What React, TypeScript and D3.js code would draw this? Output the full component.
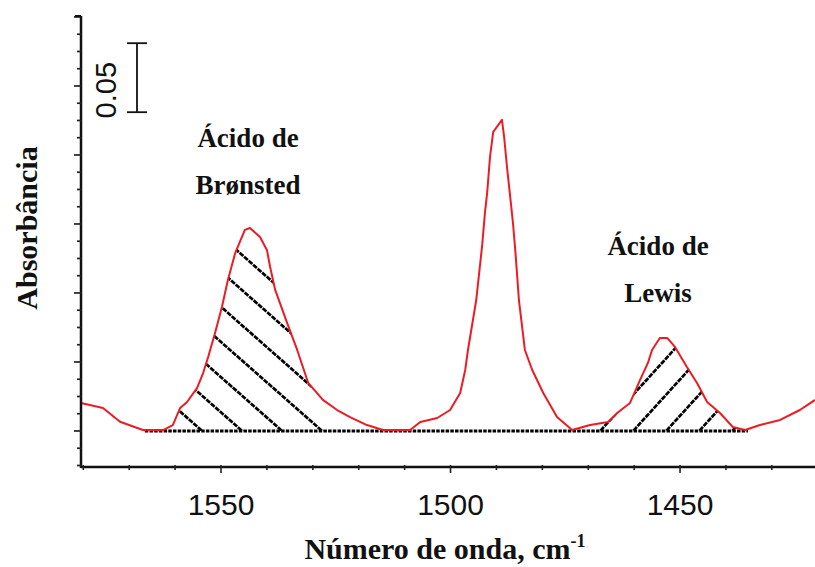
import React, { useEffect, useRef } from "react";
import * as d3 from "d3";

// spectrum (wavenumber in cm-1, absorbance relative to baseline)
const wavenumber = [1580.5, 1575.7, 1572.0, 1567.0, 1562.6, 1560.5, 1558.9, 1557.4, 1555.2, 1553.9, 1552.8, 1551.3, 1549.8, 1548.5, 1546.9, 1544.8, 1543.7, 1541.5, 1540.0, 1539.3, 1538.2, 1535.6, 1533.4, 1531.0, 1527.8, 1524.7, 1521.9, 1518.2, 1514.7, 1508.8, 1506.6, 1502.9, 1500.1, 1497.9, 1496.8, 1496.2, 1494.4, 1493.1, 1492.5, 1492.0, 1491.4, 1490.7, 1489.9, 1488.8, 1488.3, 1487.7, 1487.0, 1486.4, 1485.9, 1485.1, 1483.8, 1482.2, 1479.8, 1476.8, 1473.5, 1469.6, 1465.7, 1463.7, 1460.9, 1458.7, 1457.0, 1456.1, 1454.4, 1452.8, 1451.1, 1448.5, 1446.3, 1444.1, 1441.3, 1438.5, 1435.8, 1432.6, 1428.2, 1423.9, 1420.6];
const absorbance = [0.0203, 0.0167, 0.0067, 0.0007, 0.0007, 0.0043, 0.0167, 0.0210, 0.0312, 0.0420, 0.0536, 0.0710, 0.0899, 0.1094, 0.1290, 0.1457, 0.1471, 0.1406, 0.1312, 0.1188, 0.1022, 0.0783, 0.0587, 0.0348, 0.0225, 0.0152, 0.0101, 0.0043, 0.0007, 0.0007, 0.0065, 0.0094, 0.0152, 0.0275, 0.0442, 0.0587, 0.0949, 0.1348, 0.1580, 0.1732, 0.1986, 0.2167, 0.2203, 0.2254, 0.2123, 0.1913, 0.1696, 0.1507, 0.1312, 0.0949, 0.0587, 0.0442, 0.0275, 0.0101, 0.0007, 0.0043, 0.0065, 0.0130, 0.0203, 0.0370, 0.0493, 0.0587, 0.0674, 0.0674, 0.0609, 0.0464, 0.0348, 0.0210, 0.0130, 0.0029, 0.0007, 0.0043, 0.0080, 0.0152, 0.0225];

const xTickLabels = [1550, 1500, 1450];
const baselineRange = [1566.6, 1435.2];
const bronstedRange = [1566, 1526];
const lewisRange = [1470, 1434];
const scaleBar = [0.231, 0.281]; // 0.05 absorbance
const scaleBarLabel = "0.05";

const width = 815;
const height = 567;

export default function App() {
    const svgRef = useRef(null);

    useEffect(() => {
        document.body.style.margin = "0";
        const svg = d3.select(svgRef.current);
        svg.selectAll("*").remove();

        const margin = { top: 16, right: 0, bottom: 100, left: 81 };
        const x = d3.scaleLinear().domain([1580.5, 1420.6]).range([margin.left, width - margin.right]);
        const y = d3.scaleLinear().domain([-0.0261, 0.3007]).range([height - margin.bottom, margin.top]);

        const data = wavenumber.map((w, i) => ({ w, a: absorbance[i] }));
        const serif = "'Liberation Serif', 'Times New Roman', serif";
        const sans = "'Liberation Sans', Arial, sans-serif";
        const red = "#ec1c24";

        svg.attr("width", width).attr("height", height);

        // hatched areas between curve and baseline
        const area = d3.area().x(d => x(d.w)).y0(y(0)).y1(d => y(Math.max(0, d.a)));
        const defs = svg.append("defs");
        defs.append("clipPath").attr("id", "under").append("path").attr("d", area(data));

        const hatch = (id, range, anchor, step, slope, dir) => {
            defs.append("clipPath").attr("id", id).append("rect")
                .attr("x", x(range[0])).attr("y", margin.top)
                .attr("width", x(range[1]) - x(range[0])).attr("height", y(0) - margin.top);
            const g = svg.append("g").attr("clip-path", `url(#${id})`)
                .append("g").attr("clip-path", "url(#under)");
            const xs = d3.range(-4, 12).map(k => x(anchor - k * step));
            g.selectAll("line").data(xs).enter().append("line")
                .attr("x1", d => d + dir * 40).attr("y1", y(0) + 40 * slope)
                .attr("x2", d => d - dir * 300).attr("y2", y(0) - 300 * slope)
                .attr("stroke", "#000").attr("stroke-width", 2.7)
                .attr("stroke-dasharray", "5 1");
        };
        hatch("bron", bronstedRange, 1554.1, 8.71, 0.88, 1);
        hatch("lewis", lewisRange, 1467.4, 7.19, 1.1, -1);

        // dotted baseline
        svg.append("line")
            .attr("x1", x(baselineRange[0])).attr("x2", x(baselineRange[1]))
            .attr("y1", y(0)).attr("y2", y(0))
            .attr("stroke", "#000").attr("stroke-width", 3)
            .attr("stroke-dasharray", "3.5 1.2");

        // spectrum
        svg.append("path")
            .attr("d", d3.line().x(d => x(d.w)).y(d => y(d.a))(data))
            .attr("fill", "none").attr("stroke", red).attr("stroke-width", 2)
            .attr("stroke-linejoin", "round");

        // axes
        const x0 = margin.left, yb = height - margin.bottom;
        svg.append("line").attr("x1", x0).attr("x2", width).attr("y1", yb).attr("y2", yb)
            .attr("stroke", "#111").attr("stroke-width", 2.5);
        svg.append("line").attr("x1", x0).attr("x2", x0).attr("y1", margin.top).attr("y2", yb + 1)
            .attr("stroke", "#111").attr("stroke-width", 2.5);

        svg.selectAll(".xt").data(d3.range(1420, 1581, 10)).enter().append("line")
            .attr("x1", d => x(d)).attr("x2", d => x(d))
            .attr("y1", yb - 2).attr("y2", d => yb + (d % 50 === 0 ? 6 : 3))
            .attr("stroke", "#222").attr("stroke-width", 1.6);
        svg.selectAll(".xl").data(xTickLabels).enter().append("text")
            .attr("x", d => x(d)).attr("y", yb + 48)
            .attr("text-anchor", "middle").attr("font-family", sans).attr("font-size", 30)
            .attr("fill", "#111").text(d => d);

        const yt = d3.range(-0.025, 0.301, 0.0125);
        svg.selectAll(".yt").data(yt).enter().append("line")
            .attr("x1", d => x0 - (Math.abs(d / 0.05 - Math.round(d / 0.05)) < 0.01 ? 7 : 4)).attr("x2", x0)
            .attr("y1", d => y(d)).attr("y2", d => y(d))
            .attr("stroke", "#222").attr("stroke-width", 1.7);
        svg.append("line").attr("x1", x0 - 6).attr("x2", x0).attr("y1", margin.top).attr("y2", margin.top)
            .attr("stroke", "#111").attr("stroke-width", 2);

        // scale bar
        const bx = 137;
        const bar = svg.append("g").attr("stroke", "#111").attr("stroke-width", 1.8);
        bar.append("line").attr("x1", bx).attr("x2", bx).attr("y1", y(scaleBar[0])).attr("y2", y(scaleBar[1]));
        scaleBar.forEach(v => bar.append("line").attr("x1", bx - 10).attr("x2", bx + 10).attr("y1", y(v)).attr("y2", y(v)));
        svg.append("text").attr("transform", `translate(116,${y(scaleBar[0]) - 22}) rotate(-90)`)
            .attr("text-anchor", "middle").attr("font-family", sans).attr("font-size", 29)
            .attr("fill", "#111").text(scaleBarLabel);

        // peak labels
        const label = (cx, lines, y1) => {
            lines.forEach((t, i) => svg.append("text").attr("x", cx).attr("y", y1 + i * 47)
                .attr("text-anchor", "middle").attr("font-family", serif).attr("font-weight", "bold")
                .attr("font-size", 27).attr("fill", "#111").text(t));
        };
        label(248, ["Ácido de", "Brønsted"], 147);
        label(658, ["Ácido de", "Lewis"], 255);

        // axis titles
        const xt = svg.append("text").attr("x", 445).attr("y", 559).attr("text-anchor", "middle")
            .attr("font-family", serif).attr("font-weight", "bold").attr("font-size", 30).attr("fill", "#111");
        xt.append("tspan").text("Número de onda, cm");
        xt.append("tspan").attr("dy", -12).attr("font-size", 18).text("-1");

        svg.append("text").attr("transform", "translate(37,228) rotate(-90)")
            .attr("text-anchor", "middle").attr("font-family", serif).attr("font-weight", "bold")
            .attr("font-size", 30).attr("fill", "#111").text("Absorbância");
    }, []);

    return <svg ref={svgRef} style={{ position: "absolute", left: 0, top: 0, background: "#fff" }}></svg>;
}
